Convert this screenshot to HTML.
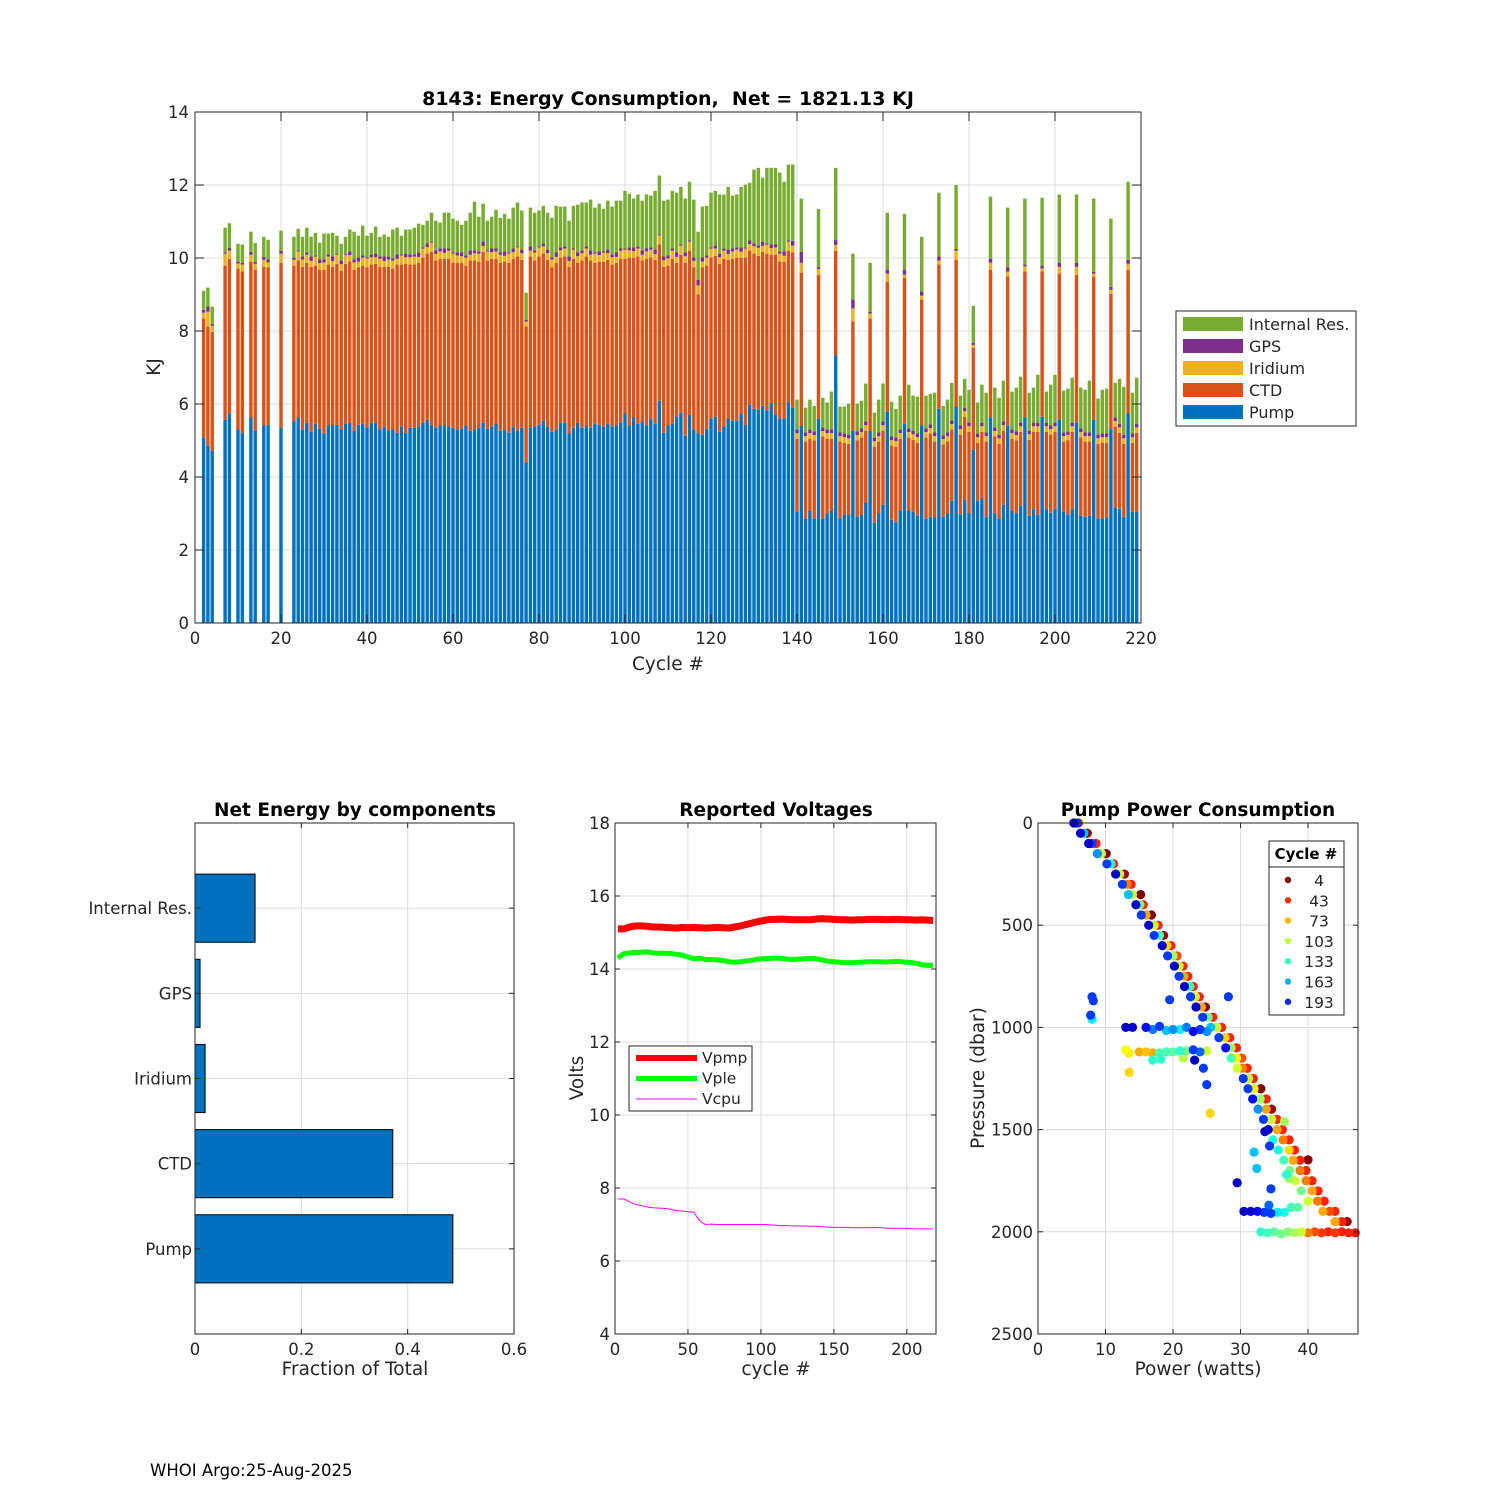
<!DOCTYPE html>
<html><head><meta charset="utf-8">
<style>
html,body{margin:0;padding:0;background:#fff;}
svg{display:block;font-family:"DejaVu Sans","Liberation Sans",sans-serif;}
</style></head>
<body>
<svg id="fig" width="1500" height="1500" viewBox="0 0 1500 1500" xmlns="http://www.w3.org/2000/svg">
<rect width="1500" height="1500" fill="#fff"/>
</svg>
<script>
// ===== Energy consumption data (KJ) =====
const cycles = [2,3,4,7,8,10,11,13,14,16,17,20,
23,24,25,26,27,28,29,30,31,32,33,34,35,36,37,38,39,40,41,42,43,44,45,46,47,48,49,50,
51,52,53,54,55,56,57,58,59,60,61,62,63,64,65,66,67,68,69,70,71,72,73,74,75,76,77,78,79,80,
81,82,83,84,85,86,87,88,89,90,91,92,93,94,95,96,97,98,99,100,101,102,103,104,105,106,107,108,109,110,
111,112,113,114,115,116,117,118,119,120,121,122,123,124,125,126,127,128,129,130,131,132,133,134,135,136,137,138,139,
140,141,142,143,144,145,146,147,148,149,150,151,152,153,154,155,156,157,158,159,
160,161,162,163,164,165,166,167,168,169,170,171,172,173,174,175,176,177,178,179,
180,181,182,183,184,185,186,187,188,189,190,191,192,193,194,195,196,197,198,199,
200,201,202,203,204,205,206,207,208,209,210,211,212,213,214,215,216,217,218,219];
const pump = [5.08,4.86,4.72,5.57,5.74,5.3,5.21,5.63,5.27,5.41,5.43,5.35,
5.52,5.63,5.3,5.49,5.24,5.46,5.32,5.19,5.41,5.41,5.43,5.3,5.46,5.49,5.27,5.43,5.46,5.35,5.49,5.49,5.3,5.38,5.27,5.3,5.21,5.38,5.21,5.35,
5.35,5.38,5.49,5.57,5.43,5.35,5.41,5.41,5.38,5.35,5.3,5.32,5.41,5.27,5.3,5.35,5.49,5.32,5.38,5.46,5.27,5.3,5.21,5.38,5.27,5.35,4.4,5.35,5.38,5.43,
5.54,5.38,5.24,5.3,5.49,5.49,5.19,5.35,5.49,5.35,5.41,5.35,5.46,5.43,5.38,5.46,5.38,5.41,5.49,5.74,5.41,5.63,5.46,5.52,5.41,5.6,5.46,6.09,5.21,5.41,
5.46,5.65,5.76,5.13,5.71,5.3,5.19,5.16,5.32,5.6,5.65,5.24,5.38,5.6,5.54,5.54,5.74,5.43,5.98,5.87,5.84,5.95,5.82,6.0,5.71,5.6,5.6,6.04,5.9,
3.05,5.4,2.86,3.08,2.86,5.6,2.86,3.0,3.08,7.33,2.86,2.97,2.97,5.27,2.91,2.97,3.3,5.27,2.75,3.0,
3.24,5.79,2.83,2.75,3.08,5.46,3.08,3.05,2.94,5.42,2.86,2.91,2.89,5.87,2.91,3.0,3.35,5.93,2.97,3.38,
3.0,4.75,3.35,3.41,2.91,5.64,3.0,2.86,3.24,5.42,3.08,3.0,3.21,5.64,2.94,3.13,2.97,5.65,3.13,3.02,
3.13,5.58,3.05,2.97,3.11,5.5,2.94,2.91,2.94,5.58,2.86,2.86,2.89,5.32,3.16,3.13,2.91,5.74,3.05,3.05];
const ctd = [3.26,3.26,3.26,4.22,4.24,4.41,4.42,4.27,4.41,4.35,4.31,4.52,
4.27,4.3,4.46,4.38,4.52,4.33,4.36,4.49,4.41,4.35,4.41,4.35,4.38,4.41,4.41,4.31,4.33,4.39,4.33,4.35,4.46,4.38,4.49,4.41,4.61,4.44,4.63,4.47,
4.47,4.49,4.52,4.55,4.74,4.58,4.57,4.57,4.6,4.52,4.57,4.55,4.38,4.66,4.63,4.55,4.68,4.61,4.6,4.52,4.6,4.6,4.66,4.6,4.77,4.6,3.72,4.69,4.55,4.61,
4.58,4.57,4.5,4.57,4.52,4.55,4.57,4.63,4.38,4.58,4.63,4.58,4.41,4.47,4.52,4.49,4.44,4.46,4.49,4.24,4.6,4.38,4.58,4.41,4.57,4.41,4.49,4.28,4.55,4.38,
4.52,4.22,4.33,4.74,4.49,4.44,3.81,4.58,4.47,4.41,4.41,4.6,4.6,4.35,4.44,4.47,4.27,4.58,4.22,4.25,4.22,4.22,4.3,4.09,4.38,4.3,4.3,4.16,4.25,
2.0,4.2,2.11,1.97,2.14,3.94,2.25,2.05,1.97,2.87,2.11,1.97,1.94,2.99,2.09,2.11,1.97,3.07,2.08,1.97,
2.03,3.56,2.03,2.08,1.97,4.0,2.0,1.97,2.0,3.44,2.22,2.28,2.08,3.95,1.98,1.97,1.95,4.02,2.19,2.27,
2.24,2.79,1.59,1.83,2.06,4.04,2.11,2.05,2.03,4.07,1.97,2.0,2.03,3.99,2.08,2.11,2.27,3.98,2.11,2.14,
2.11,3.99,1.92,2.03,2.13,4.04,2.14,2.06,2.03,3.91,2.05,2.08,2.05,3.7,2.22,2.08,2.0,3.94,1.89,2.16];
const iridium = [0.16,0.41,0.16,0.33,0.22,0.14,0.19,0.19,0.16,0.19,0.14,0.25,0.16,0.25,
0.2,0.22,0.16,0.25,0.18,0.2,0.22,0.16,0.25,0.18,
0.25,0.18,0.2,0.16,0.22,0.25,0.2,0.18,0.22,0.16,
0.2,0.22,0.16,0.25,0.18,0.2,0.22,0.16,0.25,0.18,
0.25,0.18,0.2,0.16,0.22,0.25,0.2,0.18,0.22,0.16,
0.2,0.22,0.16,0.25,0.18,0.2,0.22,0.16,0.25,0.18,
0.25,0.18,0.14,0.16,0.22,0.25,0.2,0.18,0.22,0.16,
0.2,0.22,0.16,0.25,0.18,0.2,0.22,0.16,0.25,0.18,
0.25,0.18,0.2,0.16,0.22,0.25,0.2,0.18,0.22,0.16,
0.2,0.22,0.16,0.25,0.18,0.2,0.22,0.16,0.25,0.18,
0.25,0.18,0.25,0.16,0.22,0.25,0.2,0.18,0.22,0.16,
0.2,0.22,0.16,0.25,0.18,0.2,0.22,0.16,0.25,0.18,
0.2,0.22,0.16,0.25,0.19,
0.15,0.27,0.15,0.15,0.15,0.16,0.15,0.15,0.15,0.16,
0.15,0.15,0.15,0.36,0.15,0.15,0.15,0.14,0.15,0.15,
0.15,0.22,0.15,0.15,0.15,0.08,0.15,0.15,0.15,0.11,
0.15,0.15,0.15,0.11,0.15,0.15,0.15,0.25,0.15,0.15,
0.15,0.08,0.15,0.15,0.15,0.19,0.15,0.15,0.15,0.14,
0.15,0.15,0.15,0.14,0.15,0.15,0.15,0.08,0.15,0.15,
0.15,0.19,0.15,0.15,0.15,0.22,0.15,0.15,0.15,0.08,
0.15,0.15,0.15,0.11,0.15,0.15,0.15,0.16,0.15,0.15];
const gps = [0.08,0.14,0.05,0.03,0.08,0.05,0.05,0.08,0.05,0.08,0.08,0.08,0.05,0.03,
0.08,0.06,0.12,0.03,0.1,0.08,0.06,0.12,0.03,0.1,
0.03,0.1,0.08,0.12,0.06,0.03,0.08,0.1,0.06,0.12,
0.08,0.06,0.12,0.03,0.1,0.08,0.06,0.12,0.03,0.1,
0.03,0.1,0.08,0.12,0.06,0.03,0.08,0.1,0.06,0.12,
0.08,0.06,0.12,0.03,0.1,0.08,0.06,0.12,0.03,0.1,
0.03,0.1,0.05,0.12,0.06,0.03,0.08,0.1,0.06,0.12,
0.08,0.06,0.12,0.03,0.1,0.08,0.06,0.12,0.03,0.1,
0.03,0.1,0.08,0.12,0.06,0.03,0.08,0.1,0.06,0.12,
0.08,0.06,0.12,0.03,0.1,0.08,0.06,0.12,0.03,0.1,
0.03,0.1,0.15,0.12,0.06,0.03,0.08,0.1,0.06,0.12,
0.08,0.06,0.12,0.03,0.1,0.08,0.06,0.12,0.03,0.1,
0.08,0.06,0.12,0.03,0.13,
0.1,0.3,0.1,0.1,0.1,0.04,0.1,0.1,0.1,0.13,
0.1,0.1,0.1,0.25,0.1,0.1,0.1,0.05,0.1,0.1,
0.1,0.11,0.1,0.1,0.1,0.14,0.1,0.1,0.1,0.11,
0.1,0.1,0.1,0.11,0.1,0.1,0.1,0.05,0.1,0.1,
0.1,0.06,0.1,0.1,0.1,0.11,0.1,0.1,0.1,0.11,
0.1,0.1,0.1,0.05,0.1,0.1,0.1,0.08,0.1,0.1,
0.1,0.11,0.1,0.1,0.1,0.11,0.1,0.1,0.1,0.05,
0.1,0.1,0.1,0.08,0.1,0.1,0.1,0.11,0.1,0.1];
const internalRes = [0.52,0.52,0.48,0.68,0.67,0.49,0.5,0.55,0.52,0.55,0.54,0.55,
0.58,0.59,0.54,0.68,0.54,0.62,0.46,0.71,0.57,0.65,0.49,0.46,0.46,0.6,0.76,0.59,0.82,0.59,0.59,0.74,0.54,0.6,0.54,0.79,0.73,0.51,0.66,0.68,
0.73,0.79,0.62,0.62,0.79,0.81,0.71,0.98,0.98,0.93,0.87,0.76,0.95,1.03,1.33,0.95,1.04,0.81,0.87,1.06,0.95,1.03,0.93,1.12,1.2,1.07,0.74,1.06,1.03,0.98,
1.03,1.01,1.08,1.28,1.12,1.09,0.98,1.17,1.31,1.31,1.2,1.39,1.23,1.31,1.17,1.34,1.31,1.42,1.31,1.58,1.47,1.34,1.42,1.36,1.48,1.42,1.61,1.61,1.53,1.53,
1.58,1.64,1.58,1.48,1.61,1.58,1.32,1.39,1.36,1.5,1.5,1.62,1.48,1.72,1.45,1.45,1.66,1.72,1.58,2.02,2.13,1.75,2.07,2.1,2.1,2.16,1.91,2.08,2.09,
0.82,1.46,0.68,0.82,0.7,1.6,0.81,0.74,1.04,1.98,0.71,0.74,0.85,1.25,0.76,0.76,1.04,1.34,0.68,0.9,
1.04,1.56,0.95,0.79,0.93,1.53,1.2,0.96,1.01,1.5,0.9,0.84,1.09,1.75,0.81,0.9,1.03,1.75,0.82,0.79,
0.9,1.01,0.85,1.04,1.09,1.7,1.09,1.01,1.12,1.64,1.04,1.2,1.26,1.81,1.04,0.96,1.31,1.86,0.85,1.12,
1.31,1.87,1.15,1.17,1.23,1.87,1.12,1.17,1.42,2.01,0.99,1.2,1.23,1.87,0.95,1.23,1.31,2.14,1.12,1.26];
const topXTicks = [0,20,40,60,80,100,120,140,160,180,200,220];
const topYTicks = [0,2,4,6,8,10,12,14];

// ===== Net energy fractions =====
const compNames = ["Pump","CTD","Iridium","GPS","Internal Res."];
const compFractions = [0.485,0.372,0.019,0.0095,0.113];
const hbarXTicks = [0,0.2,0.4,0.6];

// ===== Voltages =====
const voltCycles = [2,6,10,14,18,22,26,30,34,38,42,46,50,54,58,62,66,70,74,78,82,86,90,94,98,102,106,110,114,118,122,126,130,134,138,142,146,150,154,158,162,166,170,174,178,182,186,190,194,198,202,206,210,214,218];
const vpmp = [15.1,15.1,15.15,15.18,15.18,15.17,15.15,15.15,15.14,15.13,15.12,15.14,15.13,15.14,15.13,15.12,15.13,15.14,15.13,15.12,15.15,15.18,15.22,15.26,15.3,15.33,15.36,15.36,15.37,15.36,15.35,15.35,15.35,15.35,15.37,15.38,15.37,15.36,15.35,15.35,15.34,15.35,15.35,15.36,15.36,15.36,15.35,15.36,15.36,15.35,15.35,15.34,15.35,15.34,15.33];
const vple = [14.3,14.42,14.44,14.45,14.46,14.47,14.44,14.43,14.43,14.43,14.4,14.38,14.33,14.28,14.3,14.26,14.26,14.25,14.23,14.2,14.18,14.2,14.22,14.24,14.27,14.28,14.29,14.3,14.29,14.27,14.26,14.27,14.28,14.29,14.28,14.25,14.21,14.2,14.18,14.17,14.17,14.18,14.19,14.2,14.2,14.2,14.19,14.2,14.21,14.19,14.18,14.16,14.12,14.1,14.1];
const vcpu = [7.7,7.7,7.62,7.55,7.52,7.48,7.46,7.45,7.44,7.42,7.38,7.37,7.35,7.34,7.1,7.0,7.01,7.0,7.0,7.0,7.0,7.0,7.0,7.0,7.0,7.0,6.99,6.98,6.97,6.97,6.96,6.96,6.96,6.95,6.95,6.94,6.93,6.92,6.92,6.92,6.91,6.91,6.91,6.91,6.92,6.91,6.9,6.9,6.9,6.9,6.89,6.88,6.88,6.88,6.88];
const voltXTicks = [0,50,100,150,200];
const voltYTicks = [4,6,8,10,12,14,16,18];

// ===== Pump power scatter =====
const sPower = [5.3,5.8,6,6.3,6.8,7.3,7.5,8,8.6,8.8,9.4,10.1,10.2,10.8,11.2,11.5,12.1,12.8,12.5,13.2,13.8,13.4,14,15.2,14.5,15.1,15.6,15.3,16,16.8,16.4,17.2,17.8,17.2,18,18.6,18.4,19.1,19.7,19.2,20,20.6,20.2,20.9,21.5,20.9,21.6,22.2,21.7,22.5,23,22.6,23.3,23.9,23.4,24.2,24.8,24.4,25.2,25.9,25.6,26.5,27.2,26.8,27.7,28.4,27.8,28.6,29.4,28.6,29.4,30.2,29.5,30.3,31,30.4,31.2,31.9,31.1,32,33,31.8,32.9,33.8,32.6,33.8,34.6,33.4,34.6,35.4,34.1,35.4,36.2,34.8,36.3,37.2,35.6,37.2,38,36.4,37.8,38.8,37.3,38.8,39.7,38.1,39.7,40.6,39,40.6,41.5,40,41.4,42.4,42.2,43.2,44,44,45,45.8,
33,34,35,36,37,38,39,40,41,42,43,44,45,46,47,
13,14,16,17,18,19,20,21,22,23,24,25,
13,13.5,15,16,17,18,19,20,21,22,23,24,25,
8,8.2,7.8,8,13.5,17,18.2,21.5,23.2,24.5,25,25.5,19.5,28.2,32,32.4,29.5,33.6,34.3,34.5,34.2,30.5,31.5,32.5,33.5,34.5,35.5,36.5,36.8,37.2,36.5,33,40,37.5,38.5];
const sPressure = [0,0,0,50,50,50,100,100,100,150,150,150,200,200,200,250,250,250,300,300,300,350,350,350,400,400,400,450,450,450,500,500,500,550,550,550,600,600,600,650,650,650,700,700,700,750,750,750,800,800,800,850,850,850,900,900,900,950,950,950,1000,1000,1000,1050,1050,1050,1100,1100,1100,1150,1150,1150,1200,1200,1200,1250,1250,1250,1300,1300,1300,1350,1350,1350,1400,1400,1400,1450,1450,1450,1500,1500,1500,1550,1550,1550,1600,1600,1600,1650,1650,1650,1700,1700,1700,1750,1750,1750,1800,1800,1800,1850,1850,1850,1900,1900,1900,1950,1950,1950,
2000,2005,2000,2010,2000,2005,2000,2005,2000,2005,2000,2005,2000,2005,2005,
1000,1000,1000,1010,995,1015,1010,1010,1000,1020,1010,1020,
1110,1125,1120,1120,1125,1125,1120,1120,1115,1115,1110,1120,1115,
850,870,940,960,1220,1160,1155,1150,1160,1200,1280,1420,865,850,1610,1690,1760,1510,1580,1790,1870,1900,1900,1900,1905,1910,1905,1905,1720,1740,1460,1300,1648,1880,1880];
const sCycle = [215,190,40,215,160,10,215,190,40,170,100,4,190,140,40,215,100,10,190,60,40,160,100,4,215,120,40,190,70,4,215,100,40,190,130,10,215,80,40,190,110,50,215,100,40,190,70,40,215,130,40,190,100,40,215,70,4,190,120,40,160,100,40,190,80,40,200,110,40,130,90,50,100,60,40,190,100,40,190,90,4,200,110,40,170,70,10,190,100,40,215,70,40,140,60,40,140,80,40,130,70,40,120,60,40,100,60,40,120,70,40,100,60,40,70,50,40,70,40,10,
135,130,125,120,115,108,100,60,50,45,40,45,40,40,35,
215,215,200,175,190,160,170,150,175,200,190,170,
90,85,70,75,70,130,130,125,135,120,190,180,100,
190,190,190,150,80,135,135,105,215,190,190,80,190,190,160,160,215,215,190,190,180,215,215,200,190,190,150,140,135,110,110,4,4,130,125];
const legendCycles = [4,43,73,103,133,163,193];
const scatXTicks = [0,10,20,30,40];
const scatYTicks = [0,500,1000,1500,2000,2500];

// ===== drawing helpers =====
const NS = "http://www.w3.org/2000/svg";
const svg = document.getElementById('fig');
function mk(tag, attrs, parent){
  const e = document.createElementNS(NS, tag);
  for (const k in attrs) e.setAttribute(k, attrs[k]);
  (parent||svg).appendChild(e);
  return e;
}
function txt(s, x, y, opts, parent){
  const t = mk('text', Object.assign({x:x, y:y, 'font-size':16.5, fill:'#262626'}, opts||{}), parent);
  t.textContent = s;
  return t;
}
const TICKF = 16.5, LABF = 18.5, TITF = 18.5;
const GRID = '#dcdcdc', AX = '#262626';
const C_PUMP='#0072BD', C_CTD='#D95319', C_IRI='#EDB120', C_GPS='#7E2F8E', C_INT='#77AC30';

// ===== TOP CHART =====
const T = {l:195, r:1141, t:112, b:623, xmin:0, xmax:220, ymin:0, ymax:14};
const xT = c => T.l + (c - T.xmin) / (T.xmax - T.xmin) * (T.r - T.l);
const yT = v => T.b - (v - T.ymin) / (T.ymax - T.ymin) * (T.b - T.t);
const gTop = mk('g', {});


topXTicks.forEach(v => { const l = mk('line',{x1:xT(v),x2:xT(v),y1:T.t,y2:T.b,stroke:GRID,'stroke-width':1},gTop);
    });
topYTicks.forEach(v => { const l = mk('line',{x1:T.l,x2:T.r,y1:yT(v),y2:yT(v),stroke:GRID,'stroke-width':1},gTop);
    });
const bw = 0.8 * (T.r - T.l) / (T.xmax - T.xmin);
const series = [[pump,C_PUMP,'pump'],[ctd,C_CTD,'ctd'],[iridium,C_IRI,'iridium'],[gps,C_GPS,'gps'],[internalRes,C_INT,'internal-res']];
cycles.forEach((c, i) => {
  let base = 0;
  series.forEach(s => {
    const v = s[0][i];
    const r = mk('rect',{x:xT(c)-bw/2, y:yT(base+v), width:bw, height:yT(base)-yT(base+v), fill:s[1]}, gTop);
    
    
    base += v;
  });
});
function axesBox(g, A, xt, yt, xf, yf, tickLen){
  const b = mk('rect',{x:A.l,y:A.t,width:A.r-A.l,height:A.b-A.t,fill:'none',stroke:AX,'stroke-width':1},g);
   
  xt.forEach(v => {
    const x = xf(v);
    const t1 = mk('line',{x1:x,x2:x,y1:A.b,y2:A.b-tickLen,stroke:AX},g);
     
    const t2 = mk('line',{x1:x,x2:x,y1:A.t,y2:A.t+tickLen,stroke:AX},g);
     
  });
  yt.forEach(v => {
    const y = yf(v);
    const t1 = mk('line',{x1:A.l,x2:A.l+tickLen,y1:y,y2:y,stroke:AX},g);
     
    const t2 = mk('line',{x1:A.r,x2:A.r-tickLen,y1:y,y2:y,stroke:AX},g);
     
  });
}
axesBox(gTop, T, topXTicks, topYTicks, xT, yT, 9);
topXTicks.forEach(v => { const t = txt(String(v), xT(v), T.b+21, {'text-anchor':'middle','font-size':TICKF}, gTop);
    });
topYTicks.forEach(v => { const t = txt(String(v), T.l-6, yT(v)+6, {'text-anchor':'end','font-size':TICKF}, gTop);
    });
let tt = txt('8143: Energy Consumption,  Net = 1821.13 KJ', 668, 105, {'text-anchor':'middle','font-size':19,'font-weight':'bold',fill:'#000'}, gTop);
 
tt.style.whiteSpace = 'pre';
tt = txt('Cycle #', 668, 670, {'text-anchor':'middle','font-size':LABF}, gTop);
 
tt = txt('KJ', 160, 367, {'text-anchor':'middle','font-size':LABF,transform:'rotate(-90 160 367)'}, gTop);
 
// legend
const gLeg = mk('g',{},gTop);
 
mk('rect',{x:1176,y:311,width:180,height:115,fill:'#fff',stroke:AX},gLeg);
[['Internal Res.',C_INT],['GPS',C_GPS],['Iridium',C_IRI],['CTD',C_CTD],['Pump',C_PUMP]].forEach((e,i)=>{
  const y = 324 + i*22;
  const sw = mk('rect',{x:1183,y:y-7,width:60,height:14,fill:e[1]},gLeg);
   
  const lt = txt(e[0], 1249, y+6, {'font-size':16}, gLeg);
   
});

// ===== NET ENERGY HBAR =====
const H = {l:195, r:514, t:823, b:1334, xmin:0, xmax:0.6, ymin:0, ymax:6};
const xH = f => H.l + (f - H.xmin)/(H.xmax-H.xmin)*(H.r-H.l);
const yH = k => H.b - (k - H.ymin)/(H.ymax-H.ymin)*(H.b-H.t);
const gH = mk('g',{});
 
const hYT = [1,2,3,4,5];
hbarXTicks.forEach(v => { const l = mk('line',{x1:xH(v),x2:xH(v),y1:H.t,y2:H.b,stroke:GRID},gH);
    });
hYT.forEach(v => { const l = mk('line',{x1:H.l,x2:H.r,y1:yH(v),y2:yH(v),stroke:GRID},gH);
    });
compFractions.forEach((f,i)=>{
  const k = i+1, hh = 0.8*(yH(0)-yH(1));
  const r = mk('rect',{x:xH(0),y:yH(k)-hh/2,width:xH(f)-xH(0),height:hh,fill:C_PUMP,stroke:'#000','stroke-width':1},gH);
  
  
  const t = txt(compNames[i], H.l-3, yH(k)+6, {'text-anchor':'end','font-size':TICKF}, gH);
   
});
axesBox(gH, H, hbarXTicks, hYT, xH, yH, 5);
hbarXTicks.forEach(v => { const t = txt(String(v), xH(v), H.b+21, {'text-anchor':'middle','font-size':TICKF}, gH);
    });
tt = txt('Net Energy by components', 355, 816, {'text-anchor':'middle','font-size':TITF,'font-weight':'bold',fill:'#000'}, gH);
 
tt = txt('Fraction of Total', 355, 1375, {'text-anchor':'middle','font-size':LABF}, gH);
 

// ===== VOLTAGES =====
const V = {l:615, r:936, t:823, b:1334, xmin:0, xmax:220, ymin:4, ymax:18};
const xV = c => V.l + (c-V.xmin)/(V.xmax-V.xmin)*(V.r-V.l);
const yV = v => V.b - (v-V.ymin)/(V.ymax-V.ymin)*(V.b-V.t);
const gV = mk('g',{});
 
voltXTicks.forEach(v => { const l = mk('line',{x1:xV(v),x2:xV(v),y1:V.t,y2:V.b,stroke:GRID},gV);
    });
voltYTicks.forEach(v => { const l = mk('line',{x1:V.l,x2:V.r,y1:yV(v),y2:yV(v),stroke:GRID},gV);
    });
[[vpmp,'#ff0000',7,'vpmp-line'],[vple,'#00ff00',5,'vple-line'],[vcpu,'#ff00ff',1,'vcpu-line']].forEach(s=>{
  const d = voltCycles.map((c,i)=>(i?'L':'M')+xV(c).toFixed(1)+' '+yV(s[0][i]).toFixed(1)).join(' ');
  const p = mk('path',{d:d,fill:'none',stroke:s[1],'stroke-width':s[2],'stroke-linejoin':'round'},gV);
  
  
});
axesBox(gV, V, voltXTicks, voltYTicks, xV, yV, 5);
voltXTicks.forEach(v => { const t = txt(String(v), xV(v), V.b+21, {'text-anchor':'middle','font-size':TICKF}, gV);
    });
voltYTicks.forEach(v => { const t = txt(String(v), V.l-5, yV(v)+6, {'text-anchor':'end','font-size':TICKF}, gV);
    });
tt = txt('Reported Voltages', 776, 816, {'text-anchor':'middle','font-size':TITF,'font-weight':'bold',fill:'#000'}, gV);
 
tt = txt('cycle #', 776, 1375, {'text-anchor':'middle','font-size':LABF}, gV);
 
tt = txt('Volts', 583, 1078, {'text-anchor':'middle','font-size':LABF,transform:'rotate(-90 583 1078)'}, gV);
 
const gVL = mk('g',{},gV);
 
mk('rect',{x:629,y:1046,width:123,height:65,fill:'#fff',stroke:AX},gVL);
[['Vpmp','#ff0000',6],['Vple','#00ff00',5],['Vcpu','#ff00ff',1]].forEach((e,i)=>{
  const y = 1058 + i*20.5;
  const l = mk('line',{x1:636,x2:697,y1:y,y2:y,stroke:e[1],'stroke-width':e[2]},gVL);
   
  const t = txt(e[0], 702, y+5, {'font-size':15.5}, gVL);
   
});

// ===== PUMP POWER SCATTER =====
const S = {l:1038, r:1358, t:823, b:1334, xmin:0, xmax:47.4, ymin:0, ymax:2500};
const xS = p => S.l + (p-S.xmin)/(S.xmax-S.xmin)*(S.r-S.l);
const yS = d => S.t + (d-S.ymin)/(S.ymax-S.ymin)*(S.b-S.t);
function jetRev(c){
  const t = Math.max(0, Math.min(1, 1 - (c-4)/227));
  const cl = v => Math.max(0, Math.min(1, v));
  const r = cl(1.5-Math.abs(4*t-3)), g = cl(1.5-Math.abs(4*t-2)), b = cl(1.5-Math.abs(4*t-1));
  return 'rgb('+Math.round(r*255)+','+Math.round(g*255)+','+Math.round(b*255)+')';
}
const gS = mk('g',{});
 
scatXTicks.forEach(v => { const l = mk('line',{x1:xS(v),x2:xS(v),y1:S.t,y2:S.b,stroke:GRID},gS);
    });
scatYTicks.forEach(v => { const l = mk('line',{x1:S.l,x2:S.r,y1:yS(v),y2:yS(v),stroke:GRID},gS);
    });
const order = sCycle.map((c,i)=>i).sort((a,b)=>sCycle[a]-sCycle[b]);
order.forEach(i=>{
  const pt = mk('circle',{cx:xS(sPower[i]),cy:yS(sPressure[i]),r:4.6,fill:jetRev(sCycle[i])},gS);
  
  
});
axesBox(gS, S, scatXTicks, scatYTicks, xS, yS, 5);
scatXTicks.forEach(v => { const t = txt(String(v), xS(v), S.b+21, {'text-anchor':'middle','font-size':TICKF}, gS);
    });
scatYTicks.forEach(v => { const t = txt(String(v), S.l-5, yS(v)+6, {'text-anchor':'end','font-size':TICKF}, gS);
    });
tt = txt('Pump Power Consumption', 1198, 816, {'text-anchor':'middle','font-size':TITF,'font-weight':'bold',fill:'#000'}, gS);
 
tt = txt('Power (watts)', 1198, 1375, {'text-anchor':'middle','font-size':LABF}, gS);
 
tt = txt('Pressure (dbar)', 984, 1078, {'text-anchor':'middle','font-size':LABF,transform:'rotate(-90 984 1078)'}, gS);
 
const gSL = mk('g',{},gS);
 
mk('rect',{x:1269,y:841,width:75,height:174,fill:'#fff',stroke:AX},gSL);
mk('line',{x1:1269,x2:1344,y1:867,y2:867,stroke:AX},gSL);
tt = txt('Cycle #', 1306, 859, {'text-anchor':'middle','font-size':15,'font-weight':'bold',fill:'#000'}, gSL);
 
legendCycles.forEach((c,i)=>{
  const y = 880 + i*20.3;
  const m = mk('circle',{cx:1288,cy:y,r:3.2,fill:jetRev(c)},gSL);
   
  const t = txt(String(c), 1319, y+6, {'text-anchor':'middle','font-size':15.5}, gSL);
   
});

// footer
tt = txt('WHOI Argo:25-Aug-2025', 150, 1476, {'font-size':16.5,fill:'#000'});
 
</script>
</body></html>
